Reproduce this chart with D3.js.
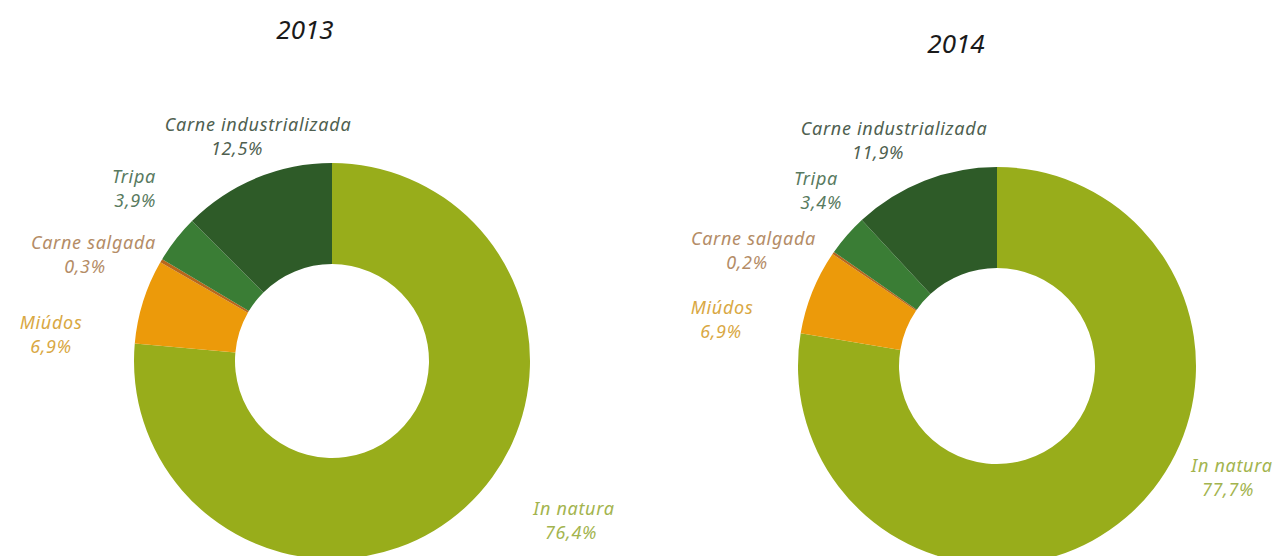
<!DOCTYPE html>
<html>
<head>
<meta charset="utf-8">
<script src="https://cdn.jsdelivr.net/npm/d3@7/dist/d3.min.js"></script>
<style>
  html, body { margin: 0; padding: 0; background: #ffffff; }
  svg { display: block; }
  text { font-family: "Noto Sans", "Open Sans", sans-serif; font-style: italic; }
</style>
</head>
<body>
<svg id="chart" width="1279" height="556"></svg>
<script>
// Categories (clockwise from 12 o'clock)
const categories = ["In natura", "Miúdos", "Carne salgada", "Tripa", "Carne industrializada"];
const years = ["2013", "2014"];
// Share of each category, in percent
const values2013 = [76.4, 6.9, 0.3, 3.9, 12.5];
const values2014 = [77.7, 6.9, 0.2, 3.4, 11.9];
const valueLabels2013 = ["76,4%", "6,9%", "0,3%", "3,9%", "12,5%"];
const valueLabels2014 = ["77,7%", "6,9%", "0,2%", "3,4%", "11,9%"];

// Styling
const sliceColors = ["#98ad1b", "#ec9a0a", "#b8671c", "#3a7d35", "#2e5b28"];
const textColors  = ["#a3b44e", "#d9a843", "#b48c66", "#587a60", "#4f5f50"];

// Layout of each donut and its labels (label offsets relative to donut centre)
const panels = [
  { year: years[0], values: values2013, pct: valueLabels2013,
    cx: 332, cy: 361, outer: 198, inner: 97, titleX: 305, titleY: 39,
    labels: [
      { nx: 242, px: 239, dy: 154, na: "middle", pa: "middle" },
      { nx: -281, px: -281, dy: -32, na: "middle", pa: "middle" },
      { nx: -176, px: -247, dy: -112, na: "end", pa: "middle" },
      { nx: -176, px: -176, dy: -178, na: "end", pa: "end" },
      { nx: -74, px: -95, dy: -230, na: "middle", pa: "middle" }
    ] },
  { year: years[1], values: values2014, pct: valueLabels2014,
    cx: 997, cy: 366, outer: 199, inner: 98, titleX: 956, titleY: 53,
    labels: [
      { nx: 235, px: 231, dy: 106, na: "middle", pa: "middle" },
      { nx: -275, px: -276, dy: -52, na: "middle", pa: "middle" },
      { nx: -181, px: -250, dy: -121, na: "end", pa: "middle" },
      { nx: -159, px: -155, dy: -181, na: "end", pa: "end" },
      { nx: -103, px: -119, dy: -231, na: "middle", pa: "middle" }
    ] }
];

const svg = d3.select("#chart");
const pie = d3.pie().sort(null).value(d => d);
const color = d3.scaleOrdinal().domain(categories).range(sliceColors);
const textColor = d3.scaleOrdinal().domain(categories).range(textColors);

panels.forEach(p => {
  const g = svg.append("g").attr("transform", `translate(${p.cx},${p.cy})`);
  const arc = d3.arc().innerRadius(p.inner).outerRadius(p.outer);

  g.selectAll("path.slice")
    .data(pie(p.values))
    .join("path")
    .attr("class", "slice")
    .attr("d", arc)
    .attr("fill", (d, i) => color(categories[i]));

  svg.append("text")
    .attr("x", p.titleX).attr("y", p.titleY)
    .attr("text-anchor", "middle")
    .attr("font-size", 26)
    .attr("fill", "#1a1a1a")
    .text(p.year);

  const lab = g.selectAll("g.lab")
    .data(categories)
    .join("g")
    .attr("class", "lab");

  lab.append("text")
    .attr("x", (d, i) => p.labels[i].nx)
    .attr("y", (d, i) => p.labels[i].dy)
    .attr("text-anchor", (d, i) => p.labels[i].na)
    .attr("font-size", 18)
    .attr("letter-spacing", 0.7)
    .attr("fill", d => textColor(d))
    .text(d => d);

  lab.append("text")
    .attr("x", (d, i) => p.labels[i].px)
    .attr("y", (d, i) => p.labels[i].dy + 24)
    .attr("text-anchor", (d, i) => p.labels[i].pa)
    .attr("font-size", 18)
    .attr("letter-spacing", 0.7)
    .attr("fill", d => textColor(d))
    .text((d, i) => p.pct[i]);
});
</script>
</body>
</html>
